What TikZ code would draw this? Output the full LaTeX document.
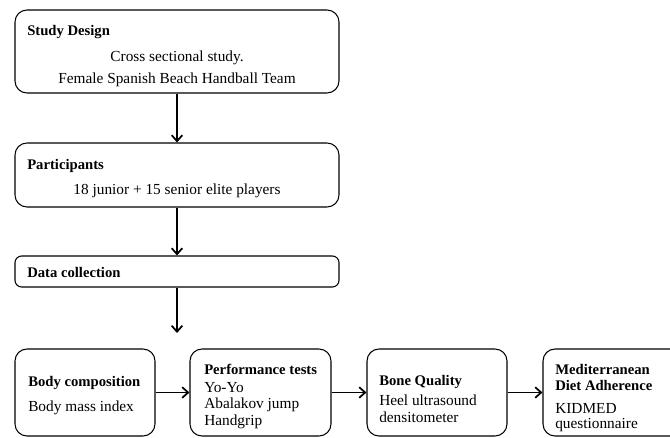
\documentclass[tikz,border=0pt]{standalone}
\usepackage{fontspec}
\setmainfont{Liberation Serif}
\usetikzlibrary{arrows.meta}

\begin{document}
\begin{tikzpicture}[x=0.75pt,y=-0.75pt,
  box/.style={draw,line width=0.8pt,rounded corners=9pt,inner sep=0pt},
  txt/.style={anchor=west,inner sep=0pt,font=\fontsize{11.5}{13}\selectfont},
  ttl/.style={txt,font=\fontsize{11}{13}\selectfont\bfseries},
  ctr/.style={inner sep=0pt,font=\fontsize{11.5}{13}\selectfont},
  arr/.style={line width=1.3pt,-{Straight Barb[length=4.5pt,width=8pt]}}]
 \useasboundingbox (0,0) rectangle (670,438);
 \clip (0,0) rectangle (670,438);
 % top column
 \node[box,minimum width=243pt,minimum height=62.25pt] (design) at (177,51.5) {};
 \node[ttl] (designt) at (27,32) {Study Design};
 \node[ctr] (design1) at (177,58) {Cross sectional study.};
 \node[ctr] (design2) at (177,80) {Female Spanish Beach Handball Team};
 \node[box,minimum width=243pt,minimum height=48pt] (part) at (177,175) {};
 \node[ttl] (partt) at (27,166) {Participants};
 \node[ctr] (part1) at (177,191) {18 junior + 15 senior elite players};
 \node[box,rounded corners=5pt,minimum width=243pt,minimum height=23.25pt] (data) at (177,271.5) {};
 \node[ttl] (datat) at (27,272) {Data collection};
 \coordinate (split) at (177,333);
 \draw[arr] (design) -- (part);
 \draw[arr] (part) -- (data);
 \draw[arr] (data) -- (split);
 % bottom row
 \node[box,minimum width=105pt,minimum height=65.25pt] (body) at (85,392.5) {};
 \node[ttl] at (28,383) {Body composition};
 \node[txt] at (28,408) {Body mass index};
 \node[box,minimum width=105.75pt,minimum height=65.25pt] (perf) at (260.5,392.5) {};
 \node[ttl] at (204,369) {Performance tests};
 \node[txt] at (204,388) {Yo-Yo};
 \node[txt] at (204,405) {Abalakov jump};
 \node[txt] at (204,422) {Handgrip};
 \node[box,minimum width=105pt,minimum height=65.25pt] (bone) at (437,392.5) {};
 \node[ttl] at (379,382) {Bone Quality};
 \node[txt] at (379,400) {Heel ultrasound};
 \node[txt] at (379,417) {densitometer};
 \node[box,minimum width=105pt,minimum height=65.25pt] (med) at (613,392.5) {};
 \node[ttl] at (555,369) {Mediterranean};
 \node[ttl] at (555,385) {Diet Adherence};
 \node[txt] at (555,408) {KIDMED};
 \node[txt] at (555,425) {questionnaire};
 \draw[arr] (body) -- (perf);
 \draw[arr] (perf) -- (bone);
 \draw[arr] (bone) -- (med);
\end{tikzpicture}
\end{document}
